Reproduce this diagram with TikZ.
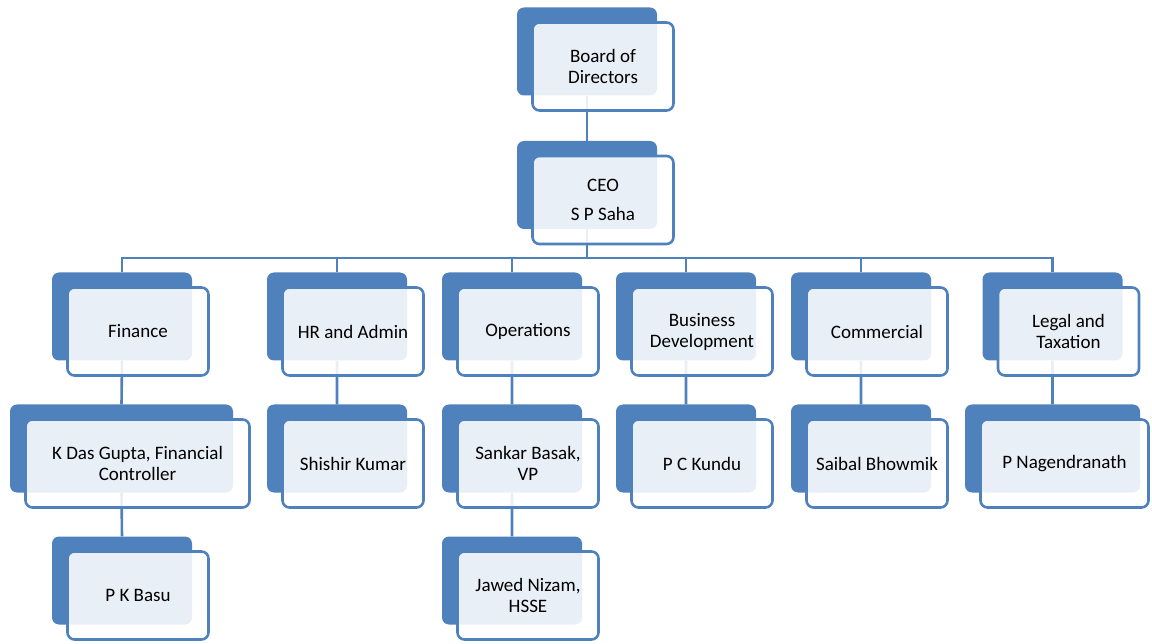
\documentclass[tikz,border=0pt]{standalone}
\usepackage{fontspec}
\setmainfont{Carlito}
\usetikzlibrary{positioning,backgrounds}
\definecolor{accent}{HTML}{4F81BD}
\tikzset{
    back/.style =   {rectangle,
                    rounded corners=7pt,
                    fill=accent,
                    draw=none,
                    minimum width=140pt,
                    minimum height=88pt,
                    inner sep=0pt},
    wide/.style =   {minimum width=#1},
    front/.style =  {rectangle,
                    rounded corners=7pt,
                    fill=white,
                    fill opacity=0.88,
                    text opacity=1,
                    draw=accent,
                    line width=2.6pt,
                    text=black,
                    align=center,
                    minimum width=141pt,
                    minimum height=88pt,
                    inner sep=0pt,
                    xshift=16pt,
                    yshift=-15pt,
                    font=\fontsize{19}{21}\selectfont},
    link/.style =   {draw=accent,
                    line width=2.6pt}}

\begin{document}
\begin{tikzpicture}[x=1pt,y=-1pt]
    \useasboundingbox (0,0) rectangle (1152,644);

    % top of the chart
    \node[back]                 (bod)   at (587,51.5)   {};
    \node[front]                (bod-t) at (bod)        {Board of\\Directors};
    \node[back]                 (ceo)   at (587,185)    {};
    \node[front]                (ceo-t) at (ceo)        {CEO\\[8pt]S P Saha};

    % departments
    \node[back]                 (fin)   at (122,316.5)  {};
    \node[front]                (fin-t) at (fin)        {Finance};
    \node[back]                 (hr)    at (337,316.5)  {};
    \node[front]                (hr-t)  at (hr)         {HR and Admin};
    \node[back]                 (ops)   at (512,316.5)  {};
    \node[front]                (ops-t) at (ops)        {Operations};
    \node[back]                 (bd)    at (686,316.5)  {};
    \node[front]                (bd-t)  at (bd)         {Business\\Development};
    \node[back]                 (com)   at (861,316.5)  {};
    \node[front]                (com-t) at (com)        {Commercial};
    \node[back]                 (leg)   at (1052.5,316.5) {};
    \node[front]                (leg-t) at (leg)        {Legal and\\Taxation};

    % heads
    \node[back,wide=223pt]      (kdg)   at (121.5,448.5) {};
    \node[front,wide=224pt]     (kdg-t) at (kdg)        {K Das Gupta, Financial\\Controller};
    \node[back]                 (shk)   at (337,448.5)  {};
    \node[front]                (shk-t) at (shk)        {Shishir Kumar};
    \node[back]                 (sbk)   at (512,448.5)  {};
    \node[front]                (sbk-t) at (sbk)        {Sankar Basak,\\VP};
    \node[back]                 (pck)   at (686,448.5)  {};
    \node[front]                (pck-t) at (pck)        {P C Kundu};
    \node[back]                 (sbw)   at (861,448.5)  {};
    \node[front]                (sbw-t) at (sbw)        {Saibal Bhowmik};
    \node[back,wide=175pt]      (png)   at (1052.5,448.5) {};
    \node[front,wide=168pt,xshift=-4pt] (png-t) at (png) {P Nagendranath};

    % third level
    \node[back]                 (pkb)   at (122,580.5)  {};
    \node[front]                (pkb-t) at (pkb)        {P K Basu};
    \node[back]                 (jwn)   at (512,580.5)  {};
    \node[front]                (jwn-t) at (jwn)        {Jawed Nizam,\\HSSE};

    \begin{scope}[on background layer]
        \coordinate (bus) at (587,258);
        \path[link]     (bod.south) -- (ceo.north)
                        (ceo.south) -- (bus);
        \foreach \d in {fin,hr,ops,bd,com,leg}
            \path[link] (bus) -| (\d.north);
        \path[link]     (fin.south) -- (kdg.north)
                        (hr.south)  -- (shk.north)
                        (ops.south) -- (sbk.north)
                        (bd.south)  -- (pck.north)
                        (com.south) -- (sbw.north)
                        (leg.south) -- (png.north)
                        (kdg.south) -- (pkb.north)
                        (sbk.south) -- (jwn.north);
    \end{scope}
\end{tikzpicture}
\end{document}
